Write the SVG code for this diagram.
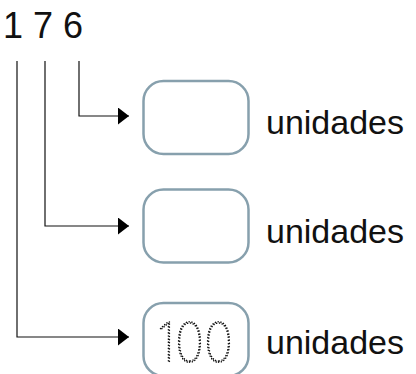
<svg xmlns="http://www.w3.org/2000/svg" width="416" height="374" viewBox="0 0 416 374">
<style>
.box{fill:#fff;stroke:#87a0ad;stroke-width:2.5}
.lbl{font-family:"Liberation Sans",Arial,sans-serif;font-size:34px;fill:#111}
.conn{fill:none;stroke:#111;stroke-width:1.2}
</style>
<defs>
<marker id="ah" markerUnits="userSpaceOnUse" markerWidth="12" markerHeight="18" refX="11" refY="8.5" orient="auto">
<path d="M0,0 L11,8.5 L0,17 Z" fill="#000"/>
</marker>
</defs>
<rect width="416" height="374" fill="#fff"/>
<text x="3" y="38" style="font-family:'Liberation Sans',Arial,sans-serif;font-size:36px;fill:#111">1 7 6</text>
<g id="connectors">
<path class="conn" d="M79,61 V116 H129" marker-end="url(#ah)"/>
<path class="conn" d="M45,61 V226 H129" marker-end="url(#ah)"/>
<path class="conn" d="M17,61 V337 H129" marker-end="url(#ah)"/>
</g>
<g id="node-units1">
<rect class="box" x="143.5" y="81" width="105" height="73" rx="20"/>
<text class="lbl" x="266" y="134">unidades</text>
</g>
<g id="node-units2">
<rect class="box" x="143.5" y="189.5" width="105" height="73" rx="20"/>
<text class="lbl" x="266" y="243">unidades</text>
</g>
<g id="node-units3">
<rect class="box" x="143.5" y="303" width="105" height="73" rx="20"/>
<text x="195" y="362" text-anchor="middle" textLength="76" lengthAdjust="spacingAndGlyphs" style="font-family:Inter,'Liberation Sans',sans-serif;font-weight:100;font-size:55px;fill:none;stroke:#111;stroke-width:1.6;stroke-dasharray:0.1 3;stroke-linecap:round">100</text>
<text class="lbl" x="266" y="354">unidades</text>
</g>
</svg>
